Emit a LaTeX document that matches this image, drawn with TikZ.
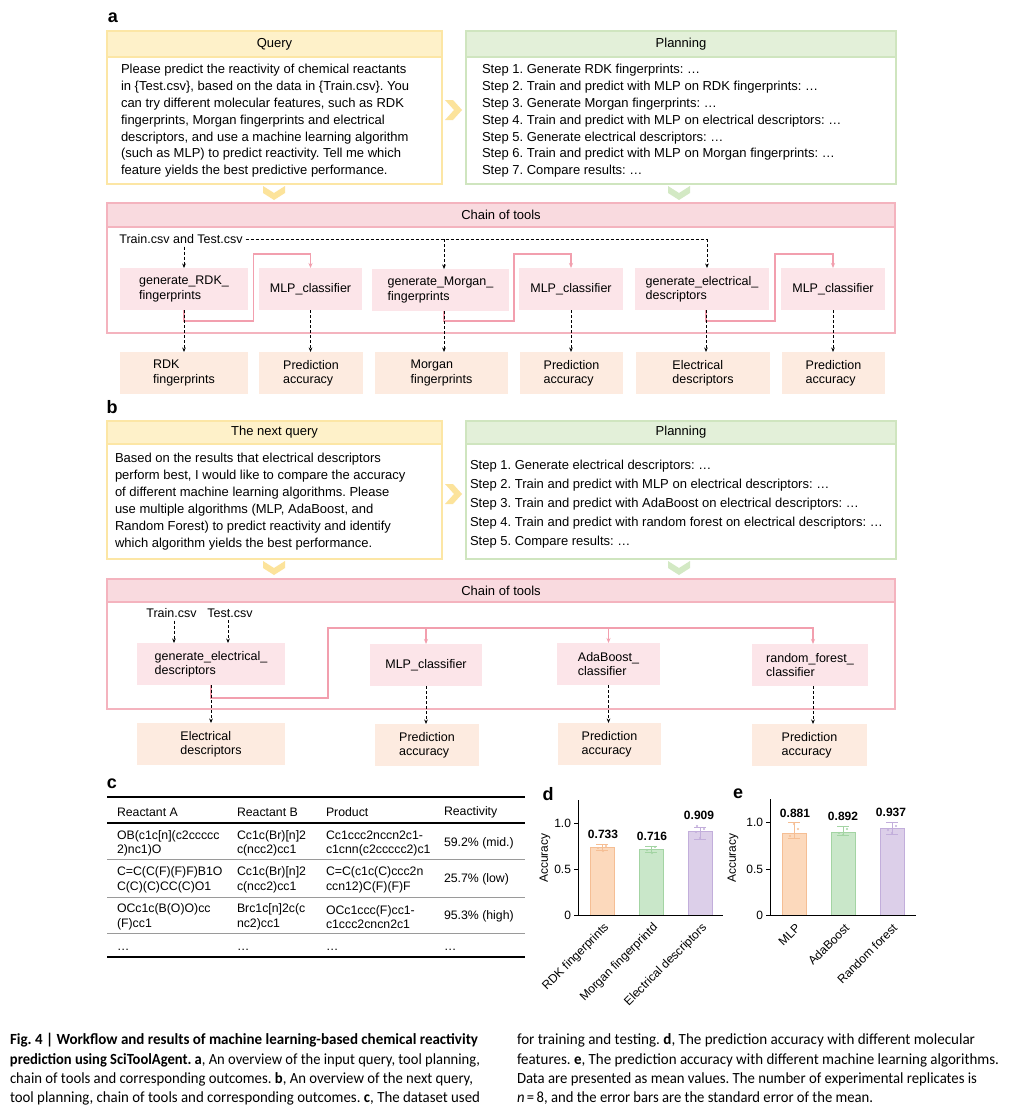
\documentclass[tikz,border=0pt]{standalone}
\usepackage{fontspec}
\setmainfont{Liberation Sans}
\newfontfamily\capfont{Carlito}
\usepackage{graphicx}
\usetikzlibrary{arrows.meta}
\frenchspacing

\definecolor{qyfill}{HTML}{FEF1C9}
\definecolor{qyline}{HTML}{FCE6A5}
\definecolor{qychev}{HTML}{FCE39B}
\definecolor{pgfill}{HTML}{E3F0D9}
\definecolor{pgline}{HTML}{CFE5BF}
\definecolor{pgchev}{HTML}{D3E9C4}
\definecolor{chfill}{HTML}{F9DADF}
\definecolor{chline}{HTML}{F4B3BE}
\definecolor{toolfill}{HTML}{FCE5E9}
\definecolor{pkline}{HTML}{F29FAE}
\definecolor{outfill}{HTML}{FDEBE0}
\definecolor{orfill}{HTML}{FCD9BC}
\definecolor{orline}{HTML}{F5BE94}
\definecolor{grfill}{HTML}{C9E7C9}
\definecolor{grline}{HTML}{A3D4A3}
\definecolor{pufill}{HTML}{DCCFE9}
\definecolor{puline}{HTML}{C2AEDB}
\definecolor{rulegray}{HTML}{9A9A9A}

\newcommand\fsbody{\fontsize{13}{16.9}\selectfont}
\newcommand\fsbodyq{\fontsize{13}{17.1}\selectfont}
\newcommand\fsbodyb{\fontsize{13}{19}\selectfont}
\newcommand\fstool{\fontsize{12.5}{14.3}\selectfont}
\newcommand\fstab{\fontsize{12.3}{14.6}\selectfont}
\newcommand\fschart{\fontsize{12}{14}\selectfont}
\newcommand\fscap{\fontsize{15.5}{18}\selectfont}
\newcommand\fslbl{\fontsize{18}{18}\selectfont}
\newcommand\ebar[4]{\draw[#4, line width=0.9pt] (#1,#2) -- (#1,#3) (#1-6,#2) -- (#1+6,#2) (#1-6,#3) -- (#1+6,#3);}

\tikzset{
  every node/.style={inner sep=0pt, outer sep=0pt},
  qbody/.style={draw=qyline, fill=white, line width=1.3pt, anchor=north west},
  qhd/.style={draw=qyline, fill=qyfill, line width=1.3pt, anchor=north west, font=\fsbody},
  pbody/.style={draw=pgline, fill=white, line width=1.3pt, anchor=north west},
  phd/.style={draw=pgline, fill=pgfill, line width=1.3pt, anchor=north west, font=\fsbody},
  cbody/.style={draw=chline, fill=white, line width=1.3pt, anchor=north west},
  chd/.style={draw=chline, fill=chfill, line width=1.3pt, anchor=north west, font=\fsbody},
  txt/.style={anchor=north west, align=left},
  tool/.style={fill=toolfill, align=left, font=\fstool, minimum height=42pt},
  outc/.style={fill=outfill, align=left, font=\fstool, minimum height=42pt},
  dline/.style={draw=black, line width=0.8pt, dash pattern=on 3pt off 2pt},
  dsh/.style={dline, -{Stealth[length=4.5pt,width=3.6pt]}},
  pk/.style={draw=pkline, line width=1.3pt, -{Stealth[length=5pt,width=4pt]}},
  tabt/.style={anchor=west, align=left, font=\fstab},
  chtxt/.style={font=\fschart},
  xlab/.style={font=\fschart, rotate=45, anchor=east},
  vlab/.style={font=\fschart\bfseries},
  caprow/.style={anchor=west, font=\capfont\fscap},
  panel/.style={font=\fslbl\bfseries}
}

\begin{document}
\begin{tikzpicture}[x=1pt,y=-1pt]
\useasboundingbox (0,0) rectangle (1011,1116);
\fill[white] (0,0) rectangle (1011,1116);

% ================= panel a =================
\node[panel] (la) at (113,18) {a};

\node[qbody, minimum width=335pt, minimum height=153pt] (qa) at (107,31) {};
\node[qhd, minimum width=335pt, minimum height=26pt] (qah) at (107,31) {Query};
\node[txt, font=\fsbody] (qat) at (121,64) {Please predict the reactivity of chemical reactants\\
in \{Test.csv\}, based on the data in \{Train.csv\}. You\\
can try different molecular features, such as RDK\\
fingerprints, Morgan fingerprints and electrical\\
descriptors, and use a machine learning algorithm\\
(such as MLP) to predict reactivity. Tell me which\\
feature yields the best predictive performance.};

\node[pbody, minimum width=430pt, minimum height=153pt] (pa) at (466,31) {};
\node[phd, minimum width=430pt, minimum height=26pt] (pah) at (466,31) {Planning};
\node[txt, font=\fsbody] (pat) at (482,64) {Step 1. Generate RDK fingerprints: …\\
Step 2. Train and predict with MLP on RDK fingerprints: …\\
Step 3. Generate Morgan fingerprints: …\\
Step 4. Train and predict with MLP on electrical descriptors: …\\
Step 5. Generate electrical descriptors: …\\
Step 6. Train and predict with MLP on Morgan fingerprints: …\\
Step 7. Compare results: …};

% chevrons a
\fill[qychev] (445,100) -- (453,100) -- (462,110) -- (453,120) -- (445,120) -- (454,110) -- cycle;
\fill[qychev] (263,186) -- (274,193) -- (285,186) -- (285,193) -- (274,200) -- (263,193) -- cycle;
\fill[pgchev] (668,186) -- (679,193) -- (690,186) -- (690,193) -- (679,200) -- (668,193) -- cycle;

\node[cbody, minimum width=788pt, minimum height=130pt] (ca) at (107,203) {};
\node[chd, minimum width=788pt, minimum height=24pt] (cah) at (107,203) {Chain of tools};

\node[font=\fstool, inner sep=3pt] (tt) at (181,239) {Train.csv and Test.csv};

\node[tool, minimum width=128pt] (rdk) at (184,289) {generate\_RDK\_\\fingerprints};
\node[tool, minimum width=103pt] (mlp1) at (310.5,289) {MLP\_classifier};
\node[tool, minimum width=137pt] (morgan) at (440.5,290) {generate\_Morgan\_\\fingerprints};
\node[tool, minimum width=104pt] (mlp2) at (571,289) {MLP\_classifier};
\node[tool, minimum width=134pt] (elec) at (702,289) {generate\_electrical\_\\descriptors};
\node[tool, minimum width=104pt] (mlp3) at (833,289) {MLP\_classifier};

\node[outc, minimum width=128pt] (rdkout) at (184,373) {RDK\\fingerprints};
\node[outc, minimum width=104pt] (p1) at (311,373) {Prediction\\accuracy};
\node[outc, minimum width=133pt] (morgout) at (441.5,373) {Morgan\\fingerprints};
\node[outc, minimum width=103pt] (p2) at (571.5,373) {Prediction\\accuracy};
\node[outc, minimum width=134pt] (elecout) at (703,373) {Electrical\\descriptors};
\node[outc, minimum width=103pt] (p3) at (833.5,373) {Prediction\\accuracy};

% dashed inputs
\draw[dsh] (rdk.north |- tt.south) -- (rdk.north);
\draw[dline] (tt.east) -- ([xshift=5pt]elec.north |- tt.east);
\draw[dsh] ([xshift=3.5pt]morgan.north |- tt.east) -- ([xshift=3.5pt]morgan.north);
\draw[dsh] ([xshift=5pt]elec.north |- tt.east) -- ([xshift=5pt]elec.north);

% pink chains
\draw[pk] (rdk.south) -- ++(0,11) -| ++(69.5,-67) -| (mlp1.north);
\draw[pk] ([xshift=3.5pt]morgan.south) -- ++(0,10) -| ++(70,-67) -| (mlp2.north);
\draw[pk] ([xshift=4pt]elec.south) -- ++(0,11) -| ++(69,-67) -| (mlp3.north);

% dashed outputs
\draw[dsh] (rdk.south) -- (rdkout.north);
\draw[dsh] (mlp1.south) -- (mlp1.south |- p1.north);
\draw[dsh] ([xshift=3.5pt]morgan.south) -- ([xshift=3.5pt]morgan.south |- morgout.north);
\draw[dsh] (mlp2.south) -- (mlp2.south |- p2.north);
\draw[dsh] ([xshift=4pt]elec.south) -- ([xshift=4pt]elec.south |- elecout.north);
\draw[dsh] (mlp3.south) -- (mlp3.south |- p3.north);

% ================= panel b =================
\node[panel] (lb) at (112,407) {b};

\node[qbody, minimum width=335pt, minimum height=138pt] (qb) at (107,421) {};
\node[qhd, minimum width=335pt, minimum height=23pt] (qbh) at (107,421) {The next query};
\node[txt, font=\fsbodyq] (qbt) at (115,453) {Based on the results that electrical descriptors\\
perform best, I would like to compare the accuracy\\
of different machine learning algorithms. Please\\
use multiple algorithms (MLP, AdaBoost, and\\
Random Forest) to predict reactivity and identify\\
which algorithm yields the best performance.};

\node[pbody, minimum width=430pt, minimum height=138pt] (pb) at (466,421) {};
\node[phd, minimum width=430pt, minimum height=23pt] (pbh) at (466,421) {Planning};
\node[txt, font=\fsbodyb] (pbt) at (470,460) {Step 1. Generate electrical descriptors: …\\
Step 2. Train and predict with MLP on electrical descriptors: …\\
Step 3. Train and predict with AdaBoost on electrical descriptors: …\\
Step 4. Train and predict with random forest on electrical descriptors: …\\
Step 5. Compare results: …};

\fill[qychev] (445,484) -- (453,484) -- (462,494) -- (453,504) -- (445,504) -- (454,494) -- cycle;
\fill[qychev] (263,561) -- (274,568) -- (285,561) -- (285,568) -- (274,575) -- (263,568) -- cycle;
\fill[pgchev] (668,561) -- (679,568) -- (690,561) -- (690,568) -- (679,575) -- (668,568) -- cycle;

\node[cbody, minimum width=788pt, minimum height=130pt] (cb) at (107,579) {};
\node[chd, minimum width=788pt, minimum height=23pt] (cbh) at (107,579) {Chain of tools};

\node[font=\fstool, inner sep=3pt] (trn) at (171.5,613) {Train.csv};
\node[font=\fstool, inner sep=3pt] (tst) at (230,613) {Test.csv};

\node[tool, minimum width=148pt] (gelec) at (211,664) {generate\_electrical\_\\descriptors};
\node[tool, minimum width=112pt] (mlpb) at (426,665) {MLP\_classifier};
\node[tool, minimum width=103pt] (ada) at (608.5,664) {AdaBoost\_\\classifier};
\node[tool, minimum width=116pt] (rf) at (810,665) {random\_forest\_\\classifier};

\node[outc, minimum width=148pt] (elecb) at (211,744) {Electrical\\descriptors};
\node[outc, minimum width=104pt] (pm) at (427,745) {Prediction\\accuracy};
\node[outc, minimum width=103pt] (pada) at (609.5,744) {Prediction\\accuracy};
\node[outc, minimum width=115pt] (prf) at (809.5,745) {Prediction\\accuracy};

\draw[dsh] ([xshift=2.5pt]trn.south) -- ([xshift=2.5pt]trn.south |- gelec.north);
\draw[dsh] ([xshift=-2pt]tst.south) -- ([xshift=-2pt]tst.south |- gelec.north);

\coordinate (bus) at (328,628);
\draw[pk] (gelec.south) -- ++(0,13) -| (bus) -| ([xshift=3pt]rf.north);
\draw[pk] (mlpb.north |- bus) -- (mlpb.north);
\draw[pk] (ada.north |- bus) -- (ada.north);

\draw[dsh] (gelec.south) -- (elecb.north);
\draw[dsh] (mlpb.south) -- (mlpb.south |- pm.north);
\draw[dsh] (ada.south) -- (ada.south |- pada.north);
\draw[dsh] ([xshift=3pt]rf.south) -- ([xshift=3pt]rf.south |- prf.north);

% ================= panel c =================
\node[panel] (lc) at (112,784) {c};
\draw[line width=2pt] (107,797) -- (525,797);
\draw[line width=2pt] (107,823) -- (525,823);
\draw[rulegray, line width=0.8pt] (107,859) -- (525,859);
\draw[rulegray, line width=0.8pt] (107,897) -- (525,897);
\draw[rulegray, line width=0.8pt] (107,933) -- (525,933);
\draw[line width=2pt] (107,957) -- (525,957);

\node[tabt] (h1) at (117,812) {Reactant A};
\node[tabt] (h2) at (237,812) {Reactant B};
\node[tabt] (h3) at (326,812) {Product};
\node[tabt] (h4) at (444,812) {Reactivity};

\node[tabt] (r11) at (117,843.5) {OB(c1c[n](c2ccccc\\2)nc1)O};
\node[tabt] (r12) at (237,843.5) {Cc1c(Br)[n]2\\c(ncc2)cc1};
\node[tabt] (r13) at (326,843.5) {Cc1ccc2nccn2c1-\\c1cnn(c2ccccc2)c1};
\node[tabt] (r14) at (444,843) {59.2\% (mid.)};

\node[tabt] (r21) at (117,880) {C=C(C(F)(F)F)B1O\\C(C)(C)CC(C)O1};
\node[tabt] (r22) at (237,880) {Cc1c(Br)[n]2\\c(ncc2)cc1};
\node[tabt] (r23) at (326,880) {C=C(c1c(C)ccc2n\\ccn12)C(F)(F)F};
\node[tabt] (r24) at (444,879) {25.7\% (low)};

\node[tabt] (r31) at (117,917) {OCc1c(B(O)O)cc\\(F)cc1};
\node[tabt] (r32) at (237,917) {Brc1c[n]2c(c\\nc2)cc1};
\node[tabt] (r33) at (326,917) {OCc1ccc(F)cc1-\\c1ccc2cncn2c1};
\node[tabt] (r34) at (444,916) {95.3\% (high)};

\node[tabt, anchor=base west] (r41) at (117,950) {…};
\node[tabt, anchor=base west] (r42) at (237,950) {…};
\node[tabt, anchor=base west] (r43) at (326,950) {…};
\node[tabt, anchor=base west] (r44) at (444,950) {…};

% ================= panel d =================
\node[panel] (ld) at (548,794) {d};
\filldraw[fill=orfill, draw=orline, line width=0.6pt] (590,915) rectangle (614,847.6);
\filldraw[fill=grfill, draw=grline, line width=0.6pt] (639,915) rectangle (663,849.1);
\filldraw[fill=pufill, draw=puline, line width=0.6pt] (688,915) rectangle (712,831.4);
\ebar{602}{850.6}{844.2}{orline}
\ebar{651}{852.0}{846.5}{grline}
\ebar{700}{839.6}{827.1}{puline}
\foreach \p in {(598,848),(606,846),(603,851)} \fill[orline] \p circle (1.1);
\foreach \p in {(647,850),(655,847),(652,853)} \fill[grline] \p circle (1.1);
\foreach \p in {(696,832),(704,829),(700,838),(697,826)} \fill[puline] \p circle (1.1);
\draw[line width=0.8pt] (578,800) -- (578,915) -- (723,915);
\draw[line width=0.8pt] (574,823) -- (578,823) (574,869) -- (578,869) (574,915) -- (578,915);
\node[chtxt, anchor=east] (dt1) at (571,823) {1.0};
\node[chtxt, anchor=east] (dt2) at (571,869) {0.5};
\node[chtxt, anchor=east] (dt3) at (571,915) {0};
\node[chtxt, rotate=90] (dacc) at (545,858) {Accuracy};
\node[vlab] (dv1) at (603,834) {0.733};
\node[vlab] (dv2) at (652,836) {0.716};
\node[vlab] (dv3) at (699,815) {0.909};
\node[xlab] (dx1) at (607,926) {RDK fingerprints};
\node[xlab] (dx2) at (656,926) {Morgan fingerprintd};
\node[xlab] (dx3) at (705,926) {Electrical descriptors};

% ================= panel e =================
\node[panel] (le) at (738,794) {e};
\filldraw[fill=orfill, draw=orline, line width=0.6pt] (782,915) rectangle (806,833.1);
\filldraw[fill=grfill, draw=grline, line width=0.6pt] (831,915) rectangle (855,832.0);
\filldraw[fill=pufill, draw=puline, line width=0.6pt] (880,915) rectangle (904,827.9);
\ebar{794}{838.7}{822}{orline}
\ebar{843}{835.0}{826.7}{grline}
\ebar{892}{834.1}{822}{puline}
\foreach \p in {(790,836),(798,829),(794,824)} \fill[orline] \p circle (1.1);
\foreach \p in {(839,833),(847,829),(843,835)} \fill[grline] \p circle (1.1);
\foreach \p in {(888,830),(896,826),(892,833)} \fill[puline] \p circle (1.1);
\draw[line width=0.8pt] (770,799) -- (770,915) -- (916,915);
\draw[line width=0.8pt] (766,822) -- (770,822) (766,869) -- (770,869) (766,915) -- (770,915);
\node[chtxt, anchor=east] (et1) at (763,822) {1.0};
\node[chtxt, anchor=east] (et2) at (763,869) {0.5};
\node[chtxt, anchor=east] (et3) at (763,915) {0};
\node[chtxt, rotate=90] (eacc) at (733,858) {Accuracy};
\node[vlab] (ev1) at (795,813) {0.881};
\node[vlab] (ev2) at (843,816) {0.892};
\node[vlab] (ev3) at (891,812) {0.937};
\node[xlab] (ex1) at (798,926) {MLP};
\node[xlab] (ex2) at (847,926) {AdaBoost};
\node[xlab] (ex3) at (895,926) {Random forest};

% ================= caption =================
\node[caprow] (cl1) at (10,1040) {\resizebox{468pt}{\height}{\bfseries Fig. 4 | Workflow and results of machine learning-based chemical reactivity}};
\node[caprow] (cl2) at (10,1060) {\resizebox{470pt}{\height}{\textbf{prediction using SciToolAgent. a}, An overview of the input query, tool planning,}};
\node[caprow] (cl3) at (10,1079) {\resizebox{463pt}{\height}{chain of tools and corresponding outcomes. \textbf{b}, An overview of the next query,}};
\node[caprow] (cl4) at (10,1098) {\resizebox{470pt}{\height}{tool planning, chain of tools and corresponding outcomes. \textbf{c}, The dataset used}};
\node[caprow] (cr1) at (517,1040) {\resizebox{458pt}{\height}{for training and testing. \textbf{d}, The prediction accuracy with different molecular}};
\node[caprow] (cr2) at (517,1060) {\resizebox{482pt}{\height}{features. \textbf{e}, The prediction accuracy with different machine learning algorithms.}};
\node[caprow] (cr3) at (517,1079) {\resizebox{460pt}{\height}{Data are presented as mean values. The number of experimental replicates is}};
\node[caprow] (cr4) at (517,1098) {\resizebox{356pt}{\height}{\textit{n}\,=\,8, and the error bars are the standard error of the mean.}};
\end{tikzpicture}
\end{document}
